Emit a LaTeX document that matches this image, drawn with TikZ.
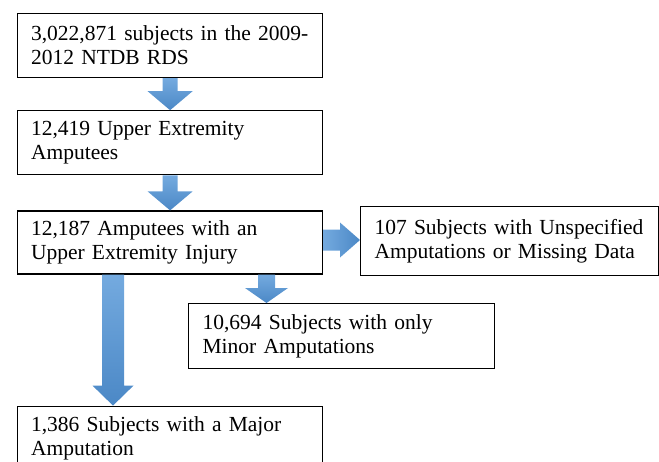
\documentclass[tikz,border=0pt]{standalone}
\usepackage{fontspec}
\setmainfont{Liberation Serif}
\usepackage{tikz}
\usetikzlibrary{positioning,calc}

\definecolor{arrowtop}{HTML}{74AADF}
\definecolor{arrowbot}{HTML}{4B88C6}

\begin{document}
\begin{tikzpicture}[x=1pt,y=-1pt,
    node distance=32pt,
    flowbox/.style={%
      draw,line width=1.2pt,anchor=north west,align=left,
      inner xsep=13.5pt,inner ysep=0pt,
      font=\fontsize{21.5}{24}\selectfont},
    downarrow/.style n args={3}{%
      top color=arrowtop,bottom color=arrowbot,draw=none,
      to path={let \p1=(\tikztostart), \p2=(\tikztotarget) in
        (\x1-#1,\y1) -- (\x1-#1,\y2+#3) -- (\x1-#2,\y2+#3) -- (\x1,\y2)
        -- (\x1+#2,\y2+#3) -- (\x1+#1,\y2+#3) -- (\x1+#1,\y1) -- cycle}},
    rightarrow/.style n args={3}{%
      left color=arrowtop,right color=arrowbot,draw=none,
      to path={let \p1=(\tikztostart), \p2=(\tikztotarget) in
        (\x1,\y1+#1) -- (\x2-#3,\y1+#1) -- (\x2-#3,\y1+#2) -- (\x2,\y1)
        -- (\x2-#3,\y1-#2) -- (\x2-#3,\y1-#1) -- (\x1,\y1-#1) -- cycle}}
  ]
    \clip (0,0) rectangle (659,461);

    % main chain
    \node[flowbox,minimum width=305pt,minimum height=64pt,text width=278pt] (total) at (17,13)
      {3,022,871 subjects in the 2009-\\2012 NTDB RDS};
    \node[flowbox,minimum width=305pt,minimum height=64pt,text width=278pt] (upper)
      [below=32pt of total.south west,anchor=north west]
      {12,419 Upper Extremity\\Amputees};
    \node[flowbox,minimum width=305pt,minimum height=63pt,text width=278pt] (injury)
      [below=35pt of upper.south west,anchor=north west]
      {12,187 Amputees with an\\Upper Extremity Injury};
    \node[flowbox,minimum width=305pt,minimum height=64pt,text width=278pt] (major)
      [below=131pt of injury.south west,anchor=north west]
      {1,386 Subjects with a Major\\Amputation};

    % side branches
    \node[flowbox,minimum width=298pt,minimum height=69pt,text width=270pt] (missing) at (360,206)
      {107 Subjects with Unspecified\\Amputations or Missing Data};
    \node[flowbox,minimum width=306pt,minimum height=65pt,text width=278pt] (minor) at (188,303)
      {10,694 Subjects with only\\Minor Amputations};

    % block arrows
    \path (total.south) edge[downarrow={7.5pt}{22.5pt}{19pt}] (upper.north);
    \path (upper.south) edge[downarrow={7.5pt}{22.5pt}{19pt}] (injury.north);
    \path ($(injury.south west)+(96,0)$) edge[downarrow={11pt}{20.5pt}{20pt}] (major.north);
    \path ($(injury.south west)+(249.5,0)$) edge[downarrow={8.5pt}{21.5pt}{15pt}] (minor.north);
    \path ($(injury.east)+(0,-2.5)$) edge[rightarrow={10.5pt}{17.5pt}{20pt}] (missing.west);
\end{tikzpicture}
\end{document}
